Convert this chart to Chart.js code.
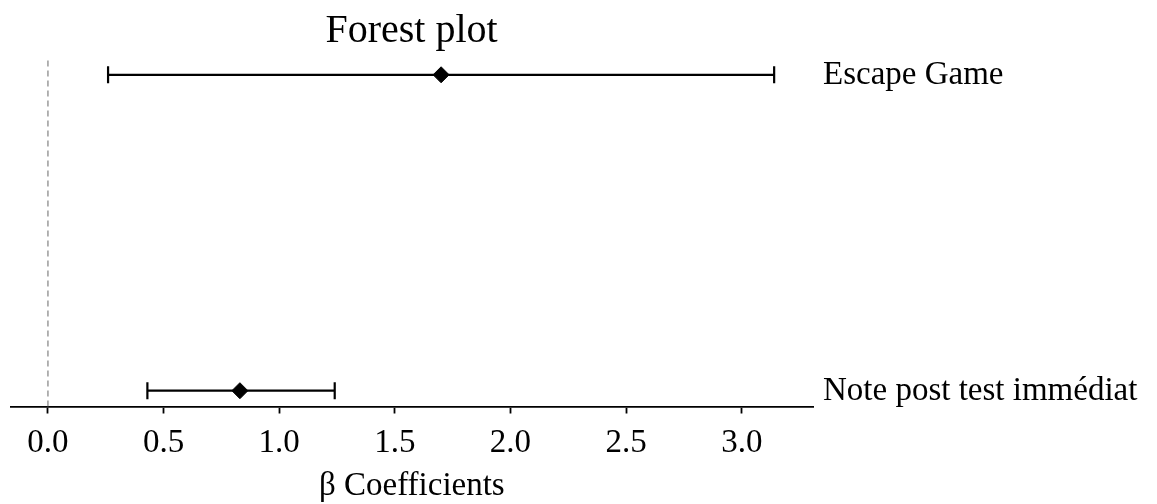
<!DOCTYPE html>
<html>
<head>
<meta charset="utf-8">
<script src="https://cdn.jsdelivr.net/npm/chart.js@4/dist/chart.umd.min.js"></script>
<style>
  html, body { margin: 0; padding: 0; background: #fff; }
  #wrap { width: 1157px; height: 504px; }
</style>
</head>
<body>
<div id="wrap"><canvas id="forest"></canvas></div>
<script>
// rows, top one first in the picture
const rowLabels = ['Escape Game', 'Note post test immédiat'];
const rowY = [1, 0];
const estimates = [1.70, 0.83];
const lowerCI = [0.26, 0.43];
const upperCI = [3.14, 1.24];
const xTicks = [0.0, 0.5, 1.0, 1.5, 2.0, 2.5, 3.0];

const serif = "'Liberation Serif', 'Times New Roman', serif";

// one line dataset per confidence interval, caps drawn as vertical point lines
const ciSets = rowLabels.map((name, i) => ({
  type: 'scatter',
  label: name + ' CI',
  data: [{ x: lowerCI[i], y: rowY[i] }, { x: upperCI[i], y: rowY[i] }],
  showLine: true,
  borderColor: '#000',
  borderWidth: 2.2,
  pointStyle: 'line',
  rotation: 90,
  pointRadius: 8.5,
  pointBorderWidth: 2.2,
  pointBorderColor: '#000'
}));

const pointSet = {
  type: 'scatter',
  label: 'estimate',
  data: estimates.map((v, i) => ({ x: v, y: rowY[i] })),
  pointStyle: 'rectRot',
  pointRadius: 8,
  pointBackgroundColor: '#000',
  pointBorderColor: '#000',
  pointBorderWidth: 1
};

const zeroLine = {
  type: 'scatter',
  label: 'zero',
  data: [{ x: 0, y: -0.05 }, { x: 0, y: 1.05 }],
  showLine: true,
  borderColor: '#9a9a9a',
  borderWidth: 1.5,
  borderDash: [6, 4],
  pointRadius: 0
};

// row names to the right of the plot
const rowNames = {
  id: 'rowNames',
  afterDraw(chart) {
    const { ctx, chartArea, scales } = chart;
    ctx.save();
    ctx.font = '33px ' + serif;
    ctx.fillStyle = '#000';
    ctx.textAlign = 'left';
    ctx.textBaseline = 'middle';
    rowLabels.forEach((name, i) => {
      ctx.fillText(name, chartArea.right + 10, scales.y.getPixelForValue(rowY[i]) + 1);
    });
    ctx.restore();
  }
};

const chart = new Chart(document.getElementById('forest'), {
  type: 'scatter',
  data: {
    datasets: [pointSet, ...ciSets, zeroLine]
  },
  options: {
    responsive: true,
    maintainAspectRatio: false,
    animation: false,
    layout: { padding: { left: 10, right: 344, top: 0, bottom: 0 } },
    plugins: {
      legend: { display: false },
      tooltip: { enabled: false },
      title: {
        display: true,
        text: 'Forest plot',
        color: '#000',
        font: { family: serif, size: 40, weight: 'normal' },
        padding: { top: 7, bottom: 4 }
      }
    },
    scales: {
      x: {
        type: 'linear',
        min: -0.161,
        max: 3.308,
        afterBuildTicks: (axis) => { axis.ticks = xTicks.map(v => ({ value: v })); },
        afterFit: (axis) => { axis.height = 97.5; },
        ticks: {
          color: '#000',
          padding: 10.5,
          font: { family: serif, size: 33 },
          callback: (v) => Number(v).toFixed(1)
        },
        grid: {
          drawOnChartArea: false,
          drawTicks: true,
          tickLength: 7,
          color: '#000',
          tickWidth: 1.8
        },
        border: { display: true, color: '#000', width: 1.8 },
        title: {
          display: true,
          text: 'β Coefficients',
          color: '#000',
          font: { family: serif, size: 33 },
          padding: { top: 0, bottom: -2 }
        }
      },
      y: {
        type: 'linear',
        display: false,
        min: -0.05,
        max: 1.05
      }
    }
  },
  plugins: [rowNames]
});
</script>
</body>
</html>
